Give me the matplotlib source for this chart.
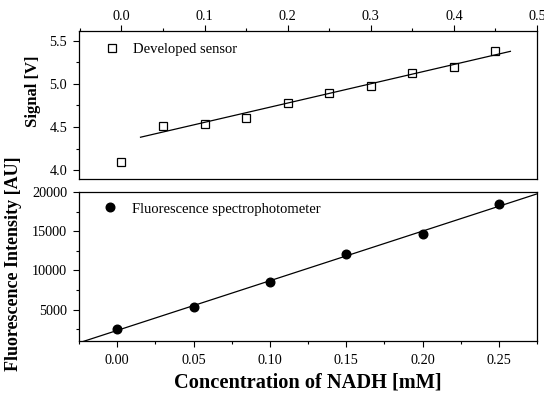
import numpy as np
import matplotlib
matplotlib.use("Agg")
import matplotlib.pyplot as plt
from matplotlib.ticker import MultipleLocator

plt.rcParams['font.family'] = ['Liberation Serif', 'DejaVu Serif']

# --- data ---
sensor_conc = [0.0, 0.05, 0.10, 0.15, 0.20, 0.25, 0.30, 0.35, 0.40, 0.45]
sensor_signal = [4.10, 4.51, 4.54, 4.60, 4.78, 4.89, 4.98, 5.13, 5.19, 5.38]
sensor_label = "Developed sensor"
sensor_fit_range = [0.023, 0.468]

fluo_conc = [0.0, 0.05, 0.10, 0.15, 0.20, 0.25]
fluo_intensity = [2520, 5390, 8500, 12140, 14610, 18420]
fluo_label = "Fluorescence spectrophotometer"

top_xticks = [0.0, 0.1, 0.2, 0.3, 0.4, 0.5]
top_yticks = [4.0, 4.5, 5.0, 5.5]
bot_xticks = [0.00, 0.05, 0.10, 0.15, 0.20, 0.25]
bot_yticks = [5000, 10000, 15000, 20000]

W, H = 544, 395
fig = plt.figure(figsize=(W / 100, H / 100), dpi=100)

def ax_rect(l, t, r, b):
    return [l / W, 1 - b / H, (r - l) / W, (b - t) / H]

ax1 = fig.add_axes(ax_rect(79, 31, 537, 179))
ax2 = fig.add_axes(ax_rect(79, 192, 537, 341))

MAJ, MIN = 4.0, 2.3

# --- top panel ---
ax1.plot(sensor_conc, sensor_signal, linestyle='none', marker='s', markersize=5.5,
         markerfacecolor='white', markeredgecolor='black', markeredgewidth=0.9,
         label=sensor_label)
fit_x = np.array(sensor_conc[1:])
fit_y = np.array(sensor_signal[1:])
k1, b1 = np.polyfit(fit_x, fit_y, 1)
xs = np.array(sensor_fit_range)
ax1.plot(xs, k1 * xs + b1, color='black', linewidth=0.9)
ax1.set_xlim(-0.051, 0.5)
ax1.set_ylim(3.9, 5.61)
ax1.xaxis.tick_top()
ax1.set_xticks(top_xticks)
ax1.set_xticklabels([f"{v:.1f}" for v in top_xticks])
ax1.set_yticks(top_yticks)
ax1.set_yticklabels([f"{v:.1f}" for v in top_yticks])
ax1.xaxis.set_minor_locator(MultipleLocator(0.05))
ax1.yaxis.set_minor_locator(MultipleLocator(0.25))
ax1.tick_params(axis='x', which='major', direction='out', length=MAJ, width=0.8,
                labelsize=10.3, pad=2.0, top=True, bottom=False)
ax1.tick_params(axis='x', which='minor', direction='out', length=MIN, width=0.8,
                top=True, bottom=False)
ax1.tick_params(axis='y', which='major', direction='out', length=MAJ, width=0.8,
                labelsize=10.3, pad=4.5, right=False)
ax1.tick_params(axis='y', which='minor', direction='out', length=MIN, width=0.8, right=False)
ax1.set_ylabel("Signal [V]", fontsize=12, fontweight='bold')
ax1.yaxis.set_label_coords(-0.083, 0.59)
ax1.legend(loc='center left', bbox_to_anchor=(0.056, 0.878), frameon=False,
           fontsize=10.5, borderaxespad=0, borderpad=0, handlelength=1.0,
           handletextpad=0.94)

# --- bottom panel ---
ax2.plot(fluo_conc, fluo_intensity, linestyle='none', marker='o', markersize=6.2,
         markerfacecolor='black', markeredgecolor='black', label=fluo_label)
k2, b2 = np.polyfit(fluo_conc, fluo_intensity, 1)
xl = np.array([-0.025, 0.275])
ax2.plot(xl, k2 * xl + b2, color='black', linewidth=0.9)
ax2.set_xlim(-0.025, 0.275)
ax2.set_ylim(1000, 20000)
ax2.set_xticks(bot_xticks)
ax2.set_xticklabels([f"{v:.2f}" for v in bot_xticks])
ax2.set_yticks(bot_yticks)
ax2.set_yticklabels([f"{v:d}" for v in bot_yticks])
ax2.xaxis.set_minor_locator(MultipleLocator(0.025))
ax2.yaxis.set_minor_locator(MultipleLocator(2500))
ax2.tick_params(axis='x', which='major', direction='out', length=MAJ, width=0.8,
                labelsize=10.3, pad=5.5, top=False)
ax2.tick_params(axis='x', which='minor', direction='out', length=MIN, width=0.8, top=False)
ax2.tick_params(axis='y', which='major', direction='out', length=MAJ, width=0.8,
                labelsize=10.3, pad=4.5, right=False)
ax2.tick_params(axis='y', which='minor', direction='out', length=MIN, width=0.8, right=False)
ax2.set_ylabel("Fluorescence Intensity [AU]", fontsize=13, fontweight='bold')
ax2.yaxis.set_label_coords(-0.1245, 0.517)
ax2.set_xlabel("Concentration of NADH [mM]", fontsize=14.7, fontweight='bold', labelpad=3.5)
ax2.legend(loc='center left', bbox_to_anchor=(0.052, 0.886), frameon=False,
           fontsize=10.5, borderaxespad=0, borderpad=0, handlelength=1.0,
           handletextpad=1.0)

for ax in (ax1, ax2):
    for s in ax.spines.values():
        s.set_linewidth(0.9)

fig.savefig("out.png", dpi=100)
